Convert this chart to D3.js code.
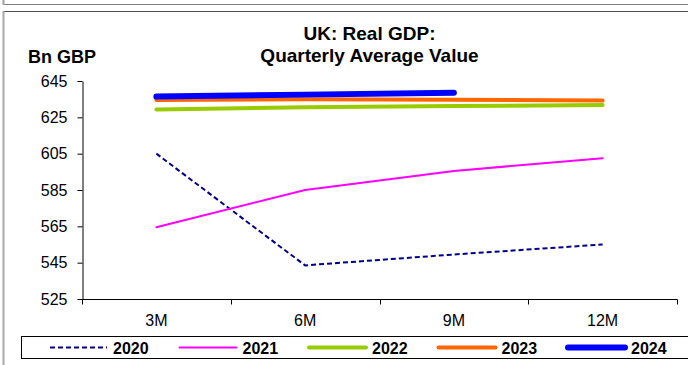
<!DOCTYPE html>
<html><head><meta charset="utf-8">
<script src="https://cdn.jsdelivr.net/npm/d3@7"></script>
<style>
html,body{margin:0;padding:0;background:#fff;}
svg{display:block;font-family:"Liberation Sans",Arial,sans-serif;}
</style></head>
<body><svg id="c" width="688" height="365"></svg>
<script>
const categories = ["3M","6M","9M","12M"];
const yTicks = [525,545,565,585,605,625,645];
const seriesNames = ["2020","2021","2022","2023","2024"];
const v2020 = [605, 543.5, 549.5, 555];
const v2021 = [564.5, 585, 595.5, 602.5];
const v2022 = [629.3, 630.5, 631.2, 631.8];
const v2023 = [634.5, 635, 634.7, 634.2];
const v2024 = [636.4, 637.5, 638.6, null];
const titleLines = ["UK: Real GDP:", "Quarterly Average Value"];
const yUnit = "Bn GBP";

const styles = {
  "2020": {color:"#000080", width:2, dash:"5,3"},
  "2021": {color:"#FF00FF", width:2, dash:null},
  "2022": {color:"#99CC00", width:4, dash:null},
  "2023": {color:"#FF6600", width:4, dash:null},
  "2024": {color:"#0000FF", width:6, dash:null}
};
const seriesValues = [v2020, v2021, v2022, v2023, v2024];

const svg = d3.select("#c");

// frames
svg.append("line").attr("x1",3).attr("x2",688).attr("y1",4.5).attr("y2",4.5).attr("stroke","#808080").attr("stroke-width",1);
svg.append("line").attr("x1",3.5).attr("x2",3.5).attr("y1",0).attr("y2",5).attr("stroke","#a0a0a0").attr("stroke-width",2);
svg.append("line").attr("x1",3).attr("x2",688).attr("y1",11.5).attr("y2",11.5).attr("stroke","#505050").attr("stroke-width",1);
svg.append("line").attr("x1",3.5).attr("x2",3.5).attr("y1",11).attr("y2",365).attr("stroke","#a8a8a8").attr("stroke-width",2);

const x = d3.scaleBand().domain(categories).range([82, 677]).padding(0);
const y = d3.scaleLinear().domain([525, 645]).range([299, 81]);
const cx = c => x(c) + x.bandwidth()/2;

// y axis
const ya = svg.append("g").attr("transform","translate(82.5,0)")
  .call(d3.axisLeft(y).tickValues(yTicks).tickSize(5).tickSizeOuter(0).tickPadding(10).tickFormat(d3.format("d")));
ya.select(".domain").attr("stroke","#000");
ya.selectAll(".tick line").attr("stroke","#000");
ya.selectAll("text").attr("font-size",16).attr("fill","#000").attr("font-family","Liberation Sans, Arial, sans-serif");

// x axis: boundary ticks
const xa = svg.append("g").attr("transform","translate(0,299.5)");
xa.append("line").attr("x1",82).attr("x2",677.5).attr("y1",0).attr("y2",0).attr("stroke","#000");
const bounds = categories.map(c => x(c)).concat([x(categories[categories.length-1]) + x.bandwidth()]);
xa.selectAll("line.tk").data(bounds).join("line").attr("class","tk")
  .attr("x1",d=>Math.round(d)+0.5).attr("x2",d=>Math.round(d)+0.5).attr("y1",0).attr("y2",5).attr("stroke","#000");
xa.selectAll("text").data(categories).join("text")
  .attr("x",d=>cx(d)).attr("y",26).attr("text-anchor","middle")
  .attr("font-size",16).attr("fill","#000").text(d=>d);

// lines
const line = d3.line().defined(d=>d.v!=null).x(d=>cx(d.c)).y(d=>y(d.v));
seriesNames.forEach((n,i)=>{
  const s = styles[n];
  const data = categories.map((c,j)=>({c, v: seriesValues[i][j]}));
  svg.append("path").datum(data).attr("d",line).attr("fill","none")
    .attr("stroke",s.color).attr("stroke-width",s.width)
    .attr("stroke-dasharray",s.dash).attr("stroke-linecap", s.dash ? "butt" : "round").attr("stroke-linejoin","round");
});

// titles
svg.append("text").attr("x",369.5).attr("y",40).attr("text-anchor","middle").attr("font-size",19).attr("font-weight","bold").text(titleLines[0]);
svg.append("text").attr("x",369.5).attr("y",62).attr("text-anchor","middle").attr("font-size",19).attr("font-weight","bold").text(titleLines[1]);
svg.append("text").attr("x",28).attr("y",63).attr("font-size",18).attr("font-weight","bold").text(yUnit);

// legend
svg.append("rect").attr("x",21.5).attr("y",336.5).attr("width",700).attr("height",22).attr("fill","none").attr("stroke","#000");
const lg = svg.selectAll("g.lg").data(seriesNames).join("g").attr("class","lg")
  .attr("transform",(d,i)=>`translate(${50 + i*129.5},347.5)`);
lg.append("line").attr("x1",0).attr("x2",57).attr("y1",0).attr("y2",0)
  .attr("stroke",d=>styles[d].color).attr("stroke-width",d=>styles[d].width)
  .attr("stroke-dasharray",d=>styles[d].dash).attr("stroke-linecap",d=>styles[d].dash?"butt":"round");
lg.append("text").attr("x",63).attr("y",6).attr("font-size",16).attr("font-weight","bold").text(d=>d);
</script></body></html>
